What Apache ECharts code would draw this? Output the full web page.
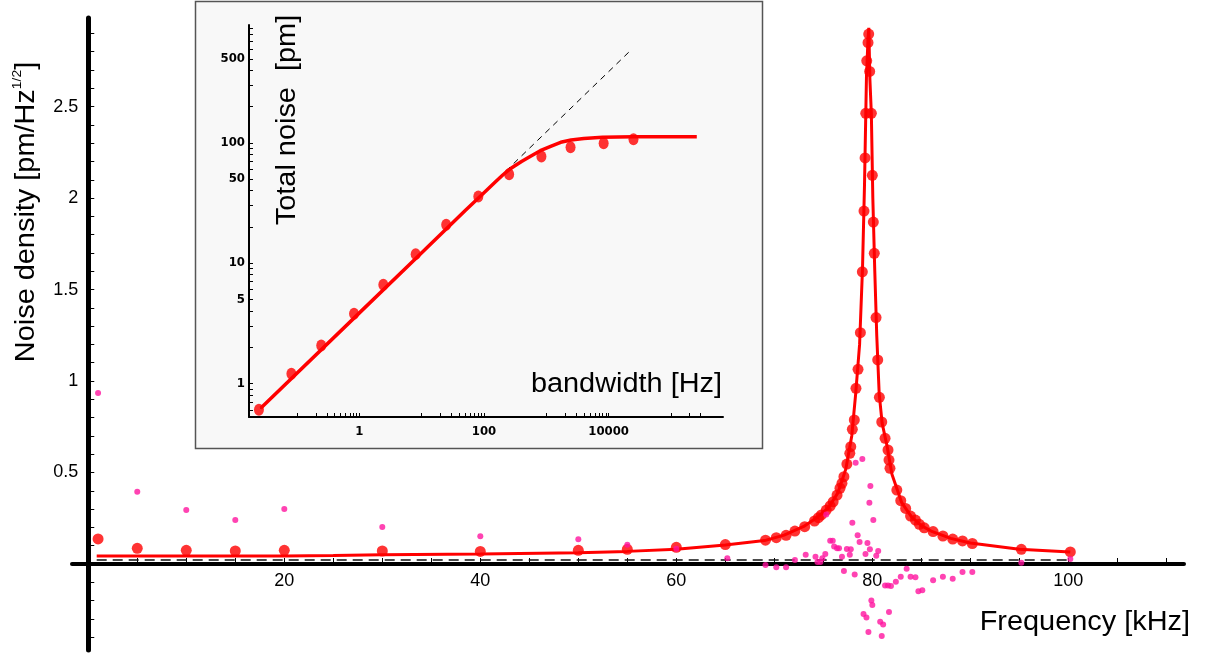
<!DOCTYPE html>
<html>
<head>
<meta charset="utf-8">
<script src="https://cdn.jsdelivr.net/npm/echarts@6/dist/echarts.min.js"></script>
<style>
  html, body { margin: 0; padding: 0; background: #ffffff; }
  #chart { width: 1210px; height: 659px; }
</style>
</head>
<body>
<div id="chart"></div>
<script>
// ---- Resonance spectrum: measured noise density, fitted curve, residuals ----
const freqMeasured = [1, 5, 10, 15, 20, 30, 40, 50, 55, 60, 65, 69.1, 70.2, 71.2, 72.1, 73.1, 74.1, 74.5, 74.8, 75.3,
  75.7, 76.0, 76.4, 76.7, 76.9, 77.1, 77.4, 77.7, 77.8, 77.96, 78.16, 78.33, 78.54, 78.78, 78.98, 79.15, 79.26, 79.33,
  79.43, 79.56, 79.63, 79.73, 79.9, 80.0, 80.1, 80.2, 80.38, 80.55, 80.72, 80.96, 81.3, 81.6, 81.7, 81.8, 82.5, 82.9,
  83.4, 83.9, 84.4, 84.8, 85.3, 86.2, 87.2, 88.2, 89.2, 90.2, 95.2, 100.2];
const densityMeasured = [0.137, 0.086, 0.075, 0.071, 0.075, 0.071, 0.069, 0.075, 0.080, 0.091, 0.106, 0.130, 0.144, 0.157,
  0.180, 0.204, 0.235, 0.253, 0.268, 0.295, 0.317, 0.340, 0.377, 0.414, 0.441, 0.477, 0.546, 0.605, 0.641, 0.736, 0.787,
  0.960, 1.064, 1.264, 1.597, 1.929, 2.219, 2.463, 2.750, 2.849, 2.896, 2.692, 2.463, 2.124, 1.869, 1.698, 1.347, 1.115,
  0.911, 0.776, 0.687, 0.623, 0.568, 0.523, 0.404, 0.346, 0.304, 0.262, 0.240, 0.217, 0.198, 0.177, 0.153, 0.136, 0.126,
  0.112, 0.080, 0.066];

const freqFit = [0.86, 10, 20, 25, 30, 40, 50, 55, 60, 65, 69, 71, 73, 74.5, 75.5, 76.5, 77.3, 77.9, 78.3, 78.7, 79.0,
  79.2, 79.4, 79.55, 79.64, 79.75, 79.9, 80.05, 80.25, 80.45, 80.7, 81.0, 81.5, 82.0, 83.0, 84.0, 85.0, 86.0, 88.0, 90.0,
  95.0, 100.2];
const densityFit = [0.044, 0.044, 0.044, 0.046, 0.050, 0.055, 0.062, 0.069, 0.080, 0.104, 0.128, 0.158, 0.205, 0.26,
  0.306, 0.39, 0.52, 0.70, 0.93, 1.2, 1.62, 2.07, 2.66, 2.86, 2.93, 2.65, 2.46, 2.0, 1.6, 1.25, 0.93, 0.77, 0.645, 0.49,
  0.335, 0.258, 0.21, 0.18, 0.14, 0.115, 0.081, 0.066];

const freqResidual = [1, 5, 10, 15, 20, 30, 40, 50, 55, 60, 65.2, 69.1, 70.2, 71.2, 72.1, 73.2, 74.2, 74.4, 74.7, 74.9,
  75.2, 75.3, 75.7, 75.96, 76.1, 76.4, 76.6, 76.9, 77.1, 77.4, 77.7, 77.8, 77.96, 78.2, 78.3, 78.5, 78.7, 78.98, 79.1,
  79.3, 79.4, 79.5, 79.6, 79.7, 79.75, 79.8, 79.9, 80.0, 80.1, 80.4, 80.6, 80.8, 80.96, 81.1, 81.3, 81.6, 81.7, 81.9,
  82.4, 82.9, 83.5, 83.9, 84.4, 84.7, 85.1, 86.2, 87.2, 88.2, 89.2, 90.2, 95.2, 100.2];
const residual = [0.934, 0.395, 0.295, 0.240, 0.300, 0.202, 0.151, 0.135, 0.105, 0.084, 0.031, -0.005, -0.018, -0.018,
  0.022, 0.051, 0.040, 0.011, 0.011, 0.031, 0.055, 0.271, 0.127, 0.127, 0.095, 0.086, 0.086, 0.040, -0.038, 0.082, 0.051,
  0.080, 0.226, -0.058, 0.554, 0.157, 0.120, 0.574, -0.273, 0.055, -0.293, 0.115, -0.372, 0.335, 0.080, 0.426, -0.199,
  -0.224, 0.240, 0.045, 0.071, -0.315, -0.393, -0.330, -0.118, -0.118, -0.262, -0.120, -0.097, -0.069, -0.026, -0.069,
  -0.073, -0.149, -0.144, -0.089, -0.069, -0.080, -0.044, -0.044, 0.007, 0.027];

const floorFreq = [0.86, 100.2];
const floorLevel = [0.022, 0.022];

const freqTicks = [5, 10, 15, 20, 25, 30, 35, 40, 45, 50, 55, 60, 65, 70, 75, 80, 85, 90, 95, 100, 105, 110];
const freqLabels = [20, 40, 60, 80, 100];
const densityTicks = [-0.4, -0.3, -0.2, -0.1, 0.1, 0.2, 0.3, 0.4, 0.5, 0.6, 0.7, 0.8, 0.9, 1.0, 1.1, 1.2, 1.3, 1.4,
  1.5, 1.6, 1.7, 1.8, 1.9, 2.0, 2.1, 2.2, 2.3, 2.4, 2.5, 2.6, 2.7, 2.8, 2.9];
const densityLabels = [0.5, 1, 1.5, 2, 2.5];

// ---- Inset: integrated noise against measurement bandwidth (log-log) ----
const bandwidth = [0.0244, 0.081, 0.244, 0.82, 2.42, 8.0, 24.7, 81, 253, 834, 2448, 8320, 25060];
const totalNoise = [0.602, 1.20, 2.06, 3.78, 6.59, 11.86, 20.8, 35.7, 54.8, 76.8, 91.9, 99.2, 107];
const bandwidthFit = [0.026, 1, 10, 50, 100, 150, 200, 250, 300, 400, 550, 800, 1200, 1700, 2500, 4000, 8000, 25000,
  260000];
const totalNoiseFit = [0.62, 3.85, 12.2, 27.3, 38.5, 47, 54, 59.5, 63.5, 70, 77, 86, 94, 101, 105.5, 108.5, 111, 112.5,
  112.5];
const whiteBandwidth = [0.026, 22760];
const whiteNoise = [0.62, 590];

const bandwidthLabels = [1, 100, 10000];
const bandwidthTicks = [0.1, 0.2, 0.3, 0.4, 0.5, 0.6, 0.7, 0.8, 0.9, 1, 10, 20, 30, 40, 50, 60, 70, 80, 90, 100,
  1000, 2000, 3000, 4000, 5000, 6000, 7000, 8000, 9000, 10000, 100000, 200000, 300000];
const noiseLabels = [1, 5, 10, 50, 100, 500];
const noiseTicks = [0.6, 0.7, 0.8, 0.9, 1, 2, 3, 4, 5, 6, 7, 8, 9, 10, 20, 30, 40, 50, 60, 70, 80, 90, 100, 200, 300,
  400, 500, 600, 700, 800, 900];

const pairs = (xs, ys) => xs.map((x, i) => [x, ys[i]]);
const logPairs = (xs, ys) => xs.map((x, i) => [Math.log10(x), Math.log10(ys[i])]);
const lg = (arr) => arr.map(v => Math.log10(v));

const RED = '#ff0000';
const PINK = '#ff149f';
const SANS = 'Liberation Sans, Arial, Helvetica, sans-serif';
const NARROW = 'Liberation Sans Narrow, DejaVu Sans Condensed, Arial Narrow, sans-serif';

// Main plot area and value ranges; the axes cross at (0, 0) inside it.
const MAIN = { left: 72, top: 18, width: 1112, height: 632 };
const FREQ_RANGE = [-1.66, 111.8];
const DENS_RANGE = [-0.47, 2.984];
// Shift each axis from the grid edge to the zero line of the other axis.
const xAxisShift = -(0 - DENS_RANGE[0]) / (DENS_RANGE[1] - DENS_RANGE[0]) * MAIN.height;
const yAxisShift = -(0 - FREQ_RANGE[0]) / (FREQ_RANGE[1] - FREQ_RANGE[0]) * MAIN.width;

const chart = echarts.init(document.getElementById('chart'), null, { renderer: 'canvas' });

const logLabel = (v) => String(Math.round(Math.pow(10, v)));

chart.setOption({
  animation: false,
  backgroundColor: '#ffffff',
  grid: [
    { left: MAIN.left, top: MAIN.top, width: MAIN.width, height: MAIN.height, containLabel: false, outerBoundsMode: 'none' },
    { left: 249, top: 25, width: 474, height: 392, containLabel: false, outerBoundsMode: 'none' }
  ],
  xAxis: [
    {
      type: 'value', gridIndex: 0, min: FREQ_RANGE[0], max: FREQ_RANGE[1], position: 'bottom', offset: xAxisShift,
      axisLine: { onZero: false, lineStyle: { color: '#000', width: 4 } },
      axisTick: { show: true, inside: true, length: 6, customValues: freqTicks, lineStyle: { color: '#000', width: 1 } },
      axisLabel: { customValues: freqLabels, margin: 8, fontSize: 18, color: '#000', fontFamily: SANS },
      splitLine: { show: false }
    },
    {
      type: 'value', gridIndex: 1, min: Math.log10(0.0169), max: Math.log10(6.85e5),
      axisLine: { onZero: false, lineStyle: { color: '#000', width: 2 } },
      axisTick: { show: true, inside: true, length: 4, customValues: lg(bandwidthTicks), lineStyle: { color: '#000', width: 1 } },
      axisLabel: { customValues: lg(bandwidthLabels), formatter: logLabel, margin: 8, fontSize: 13,
        fontWeight: 'bold', color: '#000', fontFamily: NARROW },
      splitLine: { show: false }
    }
  ],
  yAxis: [
    {
      type: 'value', gridIndex: 0, min: DENS_RANGE[0], max: DENS_RANGE[1], position: 'left', offset: yAxisShift,
      axisLine: { onZero: false, lineStyle: { color: '#000', width: 5 } },
      axisTick: { show: true, inside: true, length: 6, customValues: densityTicks, lineStyle: { color: '#000', width: 1 } },
      axisLabel: { customValues: densityLabels, margin: 10, fontSize: 18, color: '#000', fontFamily: SANS },
      splitLine: { show: false }
    },
    {
      type: 'value', gridIndex: 1, min: Math.log10(0.524), max: Math.log10(955),
      axisLine: { onZero: false, lineStyle: { color: '#000', width: 2 } },
      axisTick: { show: true, inside: true, length: 4, customValues: lg(noiseTicks), lineStyle: { color: '#000', width: 1 } },
      axisLabel: { customValues: lg(noiseLabels), formatter: logLabel, margin: 4, fontSize: 13,
        fontWeight: 'bold', color: '#000', fontFamily: NARROW },
      splitLine: { show: false }
    }
  ],
  series: [
    {
      name: 'floor', type: 'line', xAxisIndex: 0, yAxisIndex: 0, z: 3,
      data: pairs(floorFreq, floorLevel), symbol: 'none',
      lineStyle: { color: '#111', width: 1.5, type: [10, 6] }
    },
    {
      name: 'fit', type: 'line', xAxisIndex: 0, yAxisIndex: 0,
      data: pairs(freqFit, densityFit), symbol: 'none',
      lineStyle: { color: RED, width: 3 }
    },
    {
      name: 'measured', type: 'scatter', xAxisIndex: 0, yAxisIndex: 0,
      data: pairs(freqMeasured, densityMeasured), symbolSize: 11,
      itemStyle: { color: RED }
    },
    {
      name: 'residual', type: 'scatter', xAxisIndex: 0, yAxisIndex: 0, z: 4,
      data: pairs(freqResidual, residual), symbolSize: 6,
      itemStyle: { color: PINK }
    },
    {
      name: 'white noise', type: 'line', xAxisIndex: 1, yAxisIndex: 1,
      data: logPairs(whiteBandwidth, whiteNoise), symbol: 'none',
      lineStyle: { color: '#000', width: 1, type: [6, 5] }
    },
    {
      name: 'integrated fit', type: 'line', xAxisIndex: 1, yAxisIndex: 1,
      data: logPairs(bandwidthFit, totalNoiseFit), symbol: 'none',
      lineStyle: { color: RED, width: 3.5 }
    },
    {
      name: 'integrated', type: 'scatter', xAxisIndex: 1, yAxisIndex: 1,
      data: logPairs(bandwidth, totalNoise), symbolSize: [10, 12],
      itemStyle: { color: RED }
    }
  ],
  graphic: {
    elements: [
      {
        type: 'rect', z: -5,
        shape: { x: 195.5, y: 1.5, width: 567, height: 447 },
        style: { fill: '#f8f8f8', stroke: '#555555', lineWidth: 1.5 }
      },
      {
        type: 'text', z: 10, x: 1190, y: 623, scaleX: 1.07,
        style: { text: 'Frequency [kHz]', align: 'right', verticalAlign: 'middle',
          fontSize: 27, fontFamily: SANS, fill: '#000' }
      },
      {
        type: 'text', z: 10, x: 27, y: 212, rotation: Math.PI / 2, scaleX: 1.07,
        style: {
          text: '{n|Noise density [pm/Hz}{s|1/2}{n|]}', align: 'center', verticalAlign: 'middle', fill: '#000',
          rich: {
            n: { fontSize: 27, fontFamily: SANS, lineHeight: 32, fill: '#000' },
            s: { fontSize: 13, fontFamily: SANS, lineHeight: 14, verticalAlign: 'top', fill: '#000' }
          }
        }
      },
      {
        type: 'text', z: 10, x: 722, y: 385, scaleX: 1.07,
        style: { text: 'bandwidth [Hz]', align: 'right', verticalAlign: 'middle',
          fontSize: 27, fontFamily: SANS, fill: '#000' }
      },
      {
        type: 'text', z: 10, x: 288, y: 120, rotation: Math.PI / 2, scaleX: 1.07,
        style: { text: 'Total noise  [pm]', align: 'center', verticalAlign: 'middle',
          fontSize: 27, fontFamily: SANS, fill: '#000' }
      }
    ]
  }
});
</script>
</body>
</html>
